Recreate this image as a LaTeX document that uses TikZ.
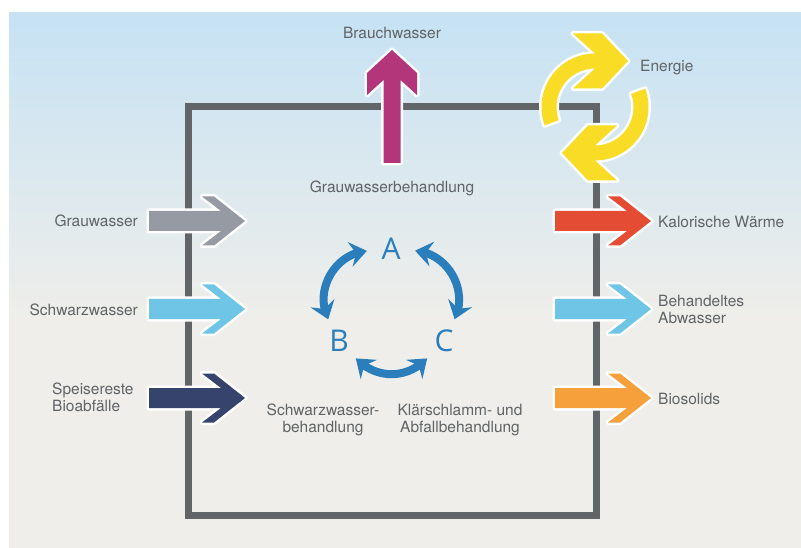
\documentclass[tikz,border=0pt]{standalone}
\usepackage{fontspec}
\setmainfont{TeX Gyre Heros}
\newfontfamily\letterfont{Open Sans}
\usepackage{tikz}
\usetikzlibrary{arrows.meta,bending,shapes.geometric}
\definecolor{cSky}{HTML}{C6E2F4}
\definecolor{cFloor}{HTML}{EFEEEA}
\definecolor{cFrame}{HTML}{616567}
\definecolor{cText}{HTML}{606467}
\definecolor{cGrau}{HTML}{959AA3}
\definecolor{cSchwarz}{HTML}{6FC5E5}
\definecolor{cSpeise}{HTML}{36446D}
\definecolor{cWaerme}{HTML}{E44D34}
\definecolor{cBio}{HTML}{F6A03C}
\definecolor{cBrauch}{HTML}{B3367A}
\definecolor{cEnergie}{HTML}{F9DC26}
\definecolor{cCycle}{HTML}{2A7EBC}
\tikzset{
  lbl/.style={text=cText, font=\fontsize{15.5}{17}\selectfont, inner sep=0pt, align=left},
  frame/.style={draw=cFrame, line width=7pt, minimum width=408pt, minimum height=408pt, inner sep=0pt},
  flow/.style={fill=#1, preaction={draw=white, line width=5pt, line join=round}},
  letter/.style={circle, minimum size=48pt, inner sep=0pt, text=cCycle, font=\letterfont\fontsize{30}{30}\selectfont},
  abc/.style={{Stealth[length=17pt, width=25pt, inset=6pt, flex]}-{Stealth[length=17pt, width=25pt, inset=6pt, flex]}, line width=8pt, draw=cCycle, looseness=1.05},
  pics/flowarrow/.style={code={
    \path[flow=#1] (-96,-10) -- (-24,-10) -- (-43,-24.5) -- (-31,-24.5) -- (0,0)
      -- (-31,24.5) -- (-43,24.5) -- (-24,10) -- (-96,10) -- cycle;}},
}
\begin{document}
\begin{tikzpicture}[x=1pt, y=-1pt]
  \useasboundingbox (0,0) rectangle (801,548);
  % background
  \fill[top color=cSky, bottom color=cFloor] (9,13) rectangle (801,320);
  \fill[cFloor] (9,319) rectangle (801,548);
  \node[frame] (plant) at (392,311) {};

  % labels
  \node[lbl] (brauch) at (392,33) {Brauchwasser};
  \node[lbl, anchor=west] (energie) at (640,68) {Energie};
  \node[lbl] (grauBeh) at (392,188) {Grauwasserbehandlung};
  \node[lbl, anchor=east] (grau) at (138,221) {Grauwasser};
  \node[lbl, anchor=east] (schwarz) at (138,310) {Schwarzwasser};
  \node[lbl, anchor=west] (speise) at (52,397) {Speisereste\\Bioabfälle};
  \node[lbl, anchor=west] (waerme) at (658,222) {Kalorische Wärme};
  \node[lbl, anchor=west] (abwasser) at (658,309) {Behandeltes\\Abwasser};
  \node[lbl, anchor=west] (bio) at (658,399) {Biosolids};
  \node[lbl, align=center] (schwarzBeh) at (323,420) {Schwarzwasser-\\behandlung};
  \node[lbl, align=center] (schlamm) at (460,420) {Klärschlamm- und\\Abfallbehandlung};

  % in- and outflows
  \pic at (245,221) {flowarrow=cGrau};
  \pic at (245,309) {flowarrow=cSchwarz};
  \pic at (245,398) {flowarrow=cSpeise};
  \pic at (651,221) {flowarrow=cWaerme};
  \pic at (651,309) {flowarrow=cSchwarz};
  \pic at (651,398) {flowarrow=cBio};
  \path[flow=cBrauch] (383.5,163) -- (383.5,80) -- (367,95) -- (367,73) -- (392,50)
    -- (417,73) -- (417,95) -- (400.5,80) -- (400.5,163) -- cycle;

  % energy loop
  \begin{scope}[shift={(595,107)}]
    \foreach \r in {0,180}
      \path[flow=cEnergie, rotate=\r] (-200:53.5) arc[start angle=-200, end angle=-90, radius=53.5]
        -- (-22,-73.5) -- (7,-73.5) -- (33,-46) -- (7,-18.5) -- (-22,-18.5) -- (0,-38.5)
        arc[start angle=-90, end angle=-200, radius=38.5] -- cycle;
  \end{scope}

  % A B C cycle
  \node[letter] (A) at (391,249) {A};
  \node[letter] (B) at (339,341) {B};
  \node[letter] (C) at (444,341) {C};
  \draw[abc] (A) to[bend right=56] (B);
  \draw[abc] (A) to[bend left=56] (C);
  \draw[abc] (B) to[bend right=46] (C);
\end{tikzpicture}
\end{document}
